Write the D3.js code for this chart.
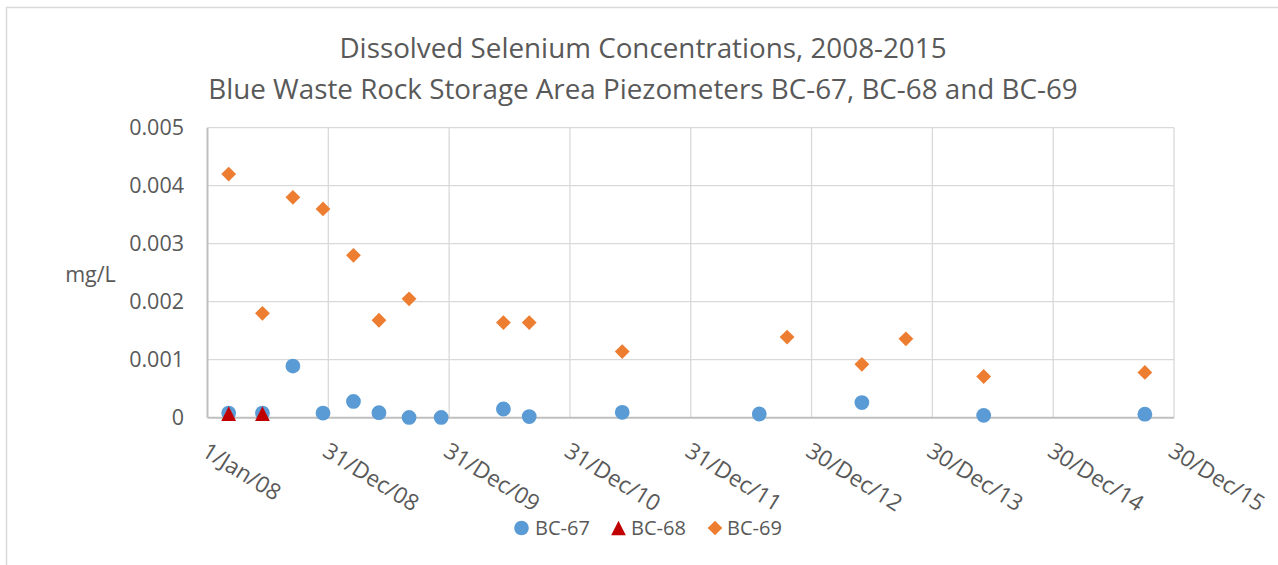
<!DOCTYPE html>
<html>
<head>
<meta charset="utf-8">
<script src="https://cdn.jsdelivr.net/npm/d3@7"></script>
<style>
  html, body { margin: 0; padding: 0; background: #fff; }
  svg { display: block; }
  text { font-family: "Open Sans", "Noto Sans", sans-serif; fill: #595959; }
</style>
</head>
<body>
<svg id="chart" width="1278" height="565"></svg>
<script>
// Sampling dates (BC-67 and BC-69) and BC-68 dates
const datesBC67 = ["2008-03-05","2008-06-15","2008-09-15","2008-12-15","2009-03-17","2009-06-02",
  "2009-09-01","2009-12-07","2010-06-13","2010-08-30","2011-06-07","2012-07-25","2013-05-31",
  "2014-06-03","2015-10-03"];
const valuesBC67 = [0.00008,0.00008,0.00089,0.00008,0.00028,0.000086,0.000005,0.000005,0.00015,
  0.00002,0.000093,0.000064,0.00026,0.00004,0.00006];

const datesBC68 = ["2008-03-05","2008-06-15"];
const valuesBC68 = [0.00007,0.00007];

const datesBC69 = ["2008-03-05","2008-06-15","2008-09-15","2008-12-15","2009-03-17","2009-06-02",
  "2009-09-01","2010-06-13","2010-08-30","2011-06-07","2012-10-17","2013-05-31","2013-10-11",
  "2014-06-03","2015-10-03"];
const valuesBC69 = [0.0042,0.0018,0.0038,0.0036,0.0028,0.00168,0.00205,0.00164,0.00164,0.00114,
  0.00139,0.00092,0.00136,0.00071,0.00078];

// Axis ticks
const xTickLabels = ["1/Jan/08","31/Dec/08","31/Dec/09","31/Dec/10","31/Dec/11",
  "30/Dec/12","30/Dec/13","30/Dec/14","30/Dec/15"];
const yTickValues = [0,0.001,0.002,0.003,0.004,0.005];
const yTickLabels = ["0","0.001","0.002","0.003","0.004","0.005"];

const titleLines = ["Dissolved Selenium Concentrations, 2008-2015",
  "Blue Waste Rock Storage Area Piezometers BC-67, BC-68 and BC-69"];
const seriesNames = ["BC-67","BC-68","BC-69"];
const seriesColors = ["#5B9BD5","#C00000","#ED7D31"];

const parse = d3.timeParse("%d/%b/%y");
const parseISO = d3.timeParse("%Y-%m-%d");
const xTickDates = xTickLabels.map(s => parse(s));

const svg = d3.select("#chart");
const plot = {left: 207.5, right: 1174, top: 127.7, bottom: 417.7};

const x = d3.scaleTime()
  .domain([xTickDates[0], xTickDates[xTickDates.length - 1]])
  .range([plot.left, plot.right]);
const y = d3.scaleLinear().domain([0, 0.005]).range([plot.bottom, plot.top]);

// outer chart frame
svg.append("path")
  .attr("d", `M6.5,565 V7.5 H1278`)
  .attr("fill", "none").attr("stroke", "#d9d9d9").attr("stroke-width", 1.5);

// horizontal gridlines
svg.append("g")
  .selectAll("line").data(yTickValues.slice(1)).join("line")
  .attr("x1", plot.left).attr("x2", plot.right)
  .attr("y1", d => y(d)).attr("y2", d => y(d))
  .attr("stroke", "#d9d9d9").attr("stroke-width", 1.3);

// vertical gridlines
svg.append("g")
  .selectAll("line").data(xTickDates.slice(1)).join("line")
  .attr("x1", d => x(d)).attr("x2", d => x(d))
  .attr("y1", plot.top).attr("y2", plot.bottom)
  .attr("stroke", "#d9d9d9").attr("stroke-width", 1.3);

// axis lines
svg.append("line")
  .attr("x1", plot.left).attr("x2", plot.left)
  .attr("y1", plot.top).attr("y2", plot.bottom)
  .attr("stroke", "#bfbfbf").attr("stroke-width", 2);
svg.append("line")
  .attr("x1", plot.left).attr("x2", plot.right)
  .attr("y1", plot.bottom).attr("y2", plot.bottom)
  .attr("stroke", "#bfbfbf").attr("stroke-width", 2);

// y tick labels
svg.append("g")
  .selectAll("text").data(yTickValues).join("text")
  .attr("x", 184).attr("y", d => y(d))
  .attr("dy", "0.36em")
  .attr("text-anchor", "end")
  .style("font-size", "21.5px")
  .text((d, i) => yTickLabels[i]);

// y axis title
svg.append("text")
  .attr("x", 90.5).attr("y", 282)
  .attr("text-anchor", "middle")
  .style("font-size", "21.5px")
  .text("mg/L");

// x tick labels (rotated)
svg.append("g")
  .selectAll("text").data(xTickDates).join("text")
  .attr("transform", d => `translate(${x(d) - 7},${455}) rotate(32)`)
  .attr("text-anchor", "start")
  .style("font-size", "22.5px")
  .text((d, i) => xTickLabels[i]);

// title
svg.append("g")
  .selectAll("text").data(titleLines).join("text")
  .attr("x", 643).attr("y", (d, i) => 58 + i * 41)
  .attr("text-anchor", "middle")
  .style("font-size", "27.8px")
  .text(d => d);

// marker shapes
const R = 7.4;
const circlePath = (cx, cy, r) => `M${cx - r},${cy} a${r},${r} 0 1,0 ${2 * r},0 a${r},${r} 0 1,0 ${-2 * r},0Z`;
const trianglePath = (cx, cy, r) => `M${cx},${cy - r} L${cx + r},${cy + r} L${cx - r},${cy + r}Z`;
const diamondPath = (cx, cy, r) => `M${cx},${cy - r} L${cx + r},${cy} L${cx},${cy + r} L${cx - r},${cy}Z`;
const shapes = [circlePath, trianglePath, diamondPath];

const series = [
  {dates: datesBC67, values: valuesBC67},
  {dates: datesBC68, values: valuesBC68},
  {dates: datesBC69, values: valuesBC69}
];

series.forEach((s, k) => {
  const pts = s.dates.map((d, i) => ({date: parseISO(d), value: s.values[i]}));
  svg.append("g")
    .selectAll("path").data(pts).join("path")
    .attr("d", p => shapes[k](x(p.date), y(p.value), R))
    .attr("fill", seriesColors[k]);
});

// legend
const legendItems = [
  {mx: 521.5, tx: 535},
  {mx: 618.5, tx: 631},
  {mx: 715, tx: 727}
];
const legY = 528;
const legend = svg.append("g");
legendItems.forEach((it, k) => {
  legend.append("path")
    .attr("d", shapes[k](it.mx, legY, 7.3))
    .attr("fill", seriesColors[k]);
  legend.append("text")
    .attr("x", it.tx).attr("y", legY)
    .attr("dy", "0.36em")
    .style("font-size", "20px")
    .text(seriesNames[k]);
});
</script>
</body>
</html>
